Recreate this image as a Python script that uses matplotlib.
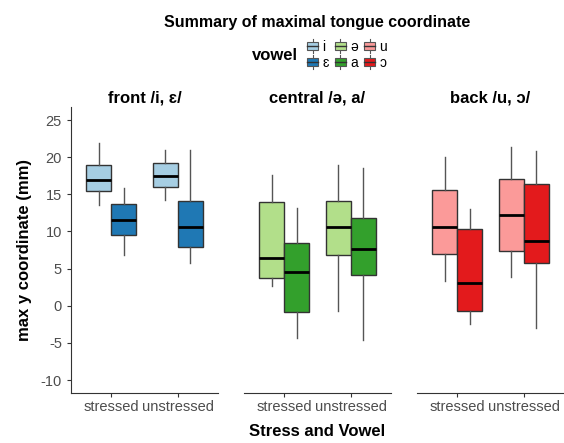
import matplotlib.pyplot as plt
from matplotlib.patches import Patch, Rectangle
from matplotlib.lines import Line2D
from matplotlib.legend_handler import HandlerBase

plt.rcParams['font.family'] = ['Liberation Sans', 'DejaVu Sans']
plt.rcParams['axes.unicode_minus'] = False

panels = ['front /i, ɛ/', 'central /ə, a/', 'back /u, ɔ/']
stress = ['stressed', 'unstressed']
vowels = [['i', 'ɛ'], ['ə', 'a'], ['u', 'ɔ']]
colores = [['#a6cee3', '#1f78b4'], ['#b2df8a', '#33a02c'], ['#fb9a99', '#e31a1c']]

# (whislo, q1, med, q3, whishi) por panel, vocal, stress
front_i = [(13.6, 15.5, 16.9, 18.9, 21.9), (14.2, 16.0, 17.5, 19.2, 21.0)]
front_e = [(6.8, 9.5, 11.6, 13.7, 15.9), (5.8, 7.9, 10.6, 14.1, 21.0)]
central_schwa = [(2.6, 3.7, 6.4, 13.9, 17.6), (-0.7, 6.8, 10.6, 14.1, 18.9)]
central_a = [(-4.4, -0.8, 4.5, 8.5, 13.1), (-4.6, 4.2, 7.7, 11.8, 18.6)]
back_u = [(3.3, 7.0, 10.6, 15.6, 20.0), (3.9, 7.4, 12.2, 17.0, 21.4)]
back_o = [(-2.4, -0.7, 3.1, 10.3, 13.0), (-3.0, 5.8, 8.7, 16.4, 20.8)]

datos = [[front_i, front_e], [central_schwa, central_a], [back_u, back_o]]


class HandlerCaja(HandlerBase):
    # glifo de boxplot pequenio para la leyenda
    def create_artists(self, legend, orig_handle, xdescent, ydescent, width, height, fontsize, trans):
        x0, y0 = -xdescent, -ydescent
        cx = x0 + width / 2
        linea_v = Line2D([cx, cx], [y0 - 0.2 * height, y0 + 1.2 * height], color='#555555',
                         linewidth=0.8, transform=trans)
        caja = Rectangle((x0, y0 + 0.1 * height), width, 0.8 * height,
                         facecolor=orig_handle.get_facecolor(), edgecolor='#555555',
                         linewidth=0.8, transform=trans)
        linea_h = Line2D([x0, x0 + width], [y0 + 0.5 * height] * 2, color='#333333',
                         linewidth=1.0, transform=trans)
        return [linea_v, caja, linea_h]


W, H = 564, 443
fig = plt.figure(figsize=(W / 100, H / 100), dpi=100)

lefts = [71, 244, 417]
ancho = 147
bottom, top = 393, 107
gris = '#4d4d4d'

for p, left in enumerate(lefts):
    ax = fig.add_axes([left / W, 1 - bottom / H, ancho / W, (bottom - top) / H])
    for v in range(2):
        stats = []
        for s in range(2):
            lo, q1, med, q3, hi = datos[p][v][s]
            stats.append(dict(whislo=lo, q1=q1, med=med, q3=q3, whishi=hi, fliers=[]))
        pos = [s + 1 + (v - 0.5) * 0.375 for s in range(2)]
        ax.bxp(stats, positions=pos, widths=0.375, patch_artist=True,
               showcaps=False,
               boxprops=dict(facecolor=colores[p][v], edgecolor='#333333', linewidth=1.0),
               medianprops=dict(color='black', linewidth=2.0),
               whiskerprops=dict(color='#555555', linewidth=1.0),
               zorder=3)
    ax.set_xlim(0.4, 2.6)
    ax.set_ylim(-11.75, 26.75)
    ax.set_xticks([1, 2])
    ax.set_xticklabels(stress, fontsize=10.5, color=gris)
    ax.tick_params(axis='x', length=3, color='#333333', pad=2)
    for lado in ['top', 'right']:
        ax.spines[lado].set_visible(False)
    ax.spines['bottom'].set_color('#333333')
    if p == 0:
        ax.set_yticks([-10, -5, 0, 5, 10, 15, 20, 25])
        ax.tick_params(axis='y', labelsize=10.5, labelcolor=gris, length=3, color='#333333')
        ax.spines['left'].set_color('#333333')
        ax.set_ylabel('max y coordinate (mm)', fontsize=12, fontweight='bold', labelpad=6)
    else:
        ax.spines['left'].set_visible(False)
        ax.set_yticks([])
    ax.set_title(panels[p], fontsize=12, fontweight='bold', pad=3)

fig.text(317 / W, 1 - 22 / H, 'Summary of maximal tongue coordinate', ha='center', va='center',
         fontsize=11.5, fontweight='bold')
fig.text(317 / W, 1 - 432 / H, 'Stress and Vowel', ha='center', va='center',
         fontsize=12, fontweight='bold')
fig.text(275 / W, 1 - 56 / H, 'vowel', ha='center', va='center', fontsize=12, fontweight='bold')

handles = []
etiquetas = []
for p in range(3):
    for v in range(2):
        handles.append(Patch(facecolor=colores[p][v], edgecolor='#333333'))
        etiquetas.append(vowels[p][v])
fig.legend(handles, etiquetas, ncol=3, loc='center left', bbox_to_anchor=(300 / W, 1 - 55 / H),
           frameon=False, fontsize=10, handlelength=0.8, handleheight=0.75, handletextpad=0.3,
           columnspacing=0.45, labelspacing=0.12, borderpad=0,
           handler_map={Patch: HandlerCaja()})

fig.savefig('out.png', dpi=100)
